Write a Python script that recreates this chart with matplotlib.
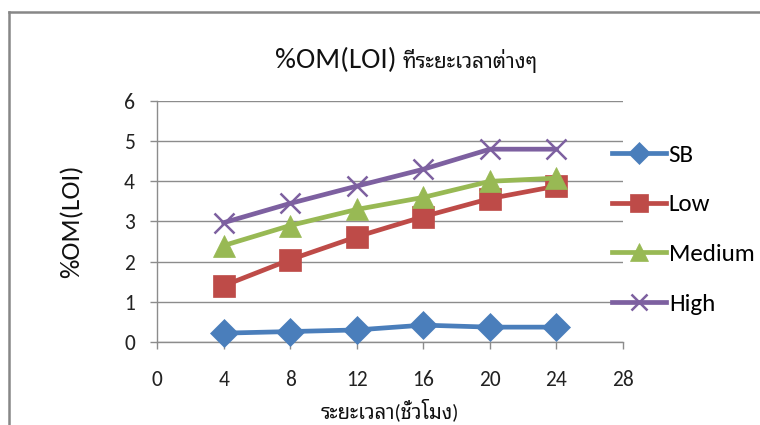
import matplotlib
matplotlib.use("Agg")
import matplotlib.pyplot as plt
from matplotlib.lines import Line2D

plt.rcParams["font.family"] = ["Carlito", "Noto Sans Thai Looped", "DejaVu Sans"]

hours = [4, 8, 12, 16, 20, 24]
sb = [0.22, 0.26, 0.30, 0.42, 0.37, 0.37]
low = [1.40, 2.05, 2.62, 3.12, 3.57, 3.88]
medium = [2.40, 2.90, 3.30, 3.60, 4.00, 4.08]
high = [2.97, 3.45, 3.88, 4.30, 4.80, 4.80]

x_ticks = [0, 4, 8, 12, 16, 20, 24, 28]
y_ticks = [0, 1, 2, 3, 4, 5, 6]

series = [
    ("SB", sb, "#4A7EBB", "D", 14),
    ("Low", low, "#BE4B48", "s", 16),
    ("Medium", medium, "#98B954", "^", 16),
    ("High", high, "#7D60A0", "x", 14.5),
]

fig = plt.figure(figsize=(7.6, 4.25), dpi=100)
ax = fig.add_axes([0.2066, 0.1953, 0.6131, 0.5671])

for name, vals, color, marker, ms in series:
    ax.plot(hours, vals, color=color, lw=3.4, marker=marker, ms=ms,
            mec=color, mew=1.8 if marker == "x" else 0.5, label=name,
            clip_on=False, zorder=3)

ax.set_xlim(0, 28)
ax.set_ylim(0, 6)
ax.set_xticks(x_ticks)
ax.set_yticks(y_ticks)
ax.grid(axis="y", color="#8C8C8C", lw=1.0)
ax.set_axisbelow(True)

for side in ["top", "right"]:
    ax.spines[side].set_visible(False)
for side in ["left", "bottom"]:
    ax.spines[side].set_color("#8C8C8C")
    ax.spines[side].set_linewidth(1.0)

ax.tick_params(axis="both", direction="out", length=5, width=1.0,
               color="#8C8C8C", labelsize=15.5, labelcolor="#222222")
ax.tick_params(axis="y", pad=11)
ax.tick_params(axis="x", pad=15)

ax.set_ylabel("%OM(LOI)", fontsize=19.5, color="#111111", labelpad=29)
ax.set_xlabel("ระยะเวลา(ชั่วโมง)", fontsize=14.5, color="#111111", labelpad=6)

# title: latin part larger, thai part smaller
fig.text(0.522, 1 - 68 / 425, "%OM(LOI)", fontsize=21, ha="right", va="baseline", color="#111111")
fig.text(0.530, 1 - 68 / 425, "ที่ระยะเวลาต่างๆ", fontsize=15, ha="left", va="baseline", color="#111111")

ax.legend(loc="upper left", bbox_to_anchor=(0.955, 0.862), frameon=False,
          fontsize=18, handlelength=2.15, handletextpad=0.12, markerscale=0.8,
          labelspacing=1.13, borderaxespad=0)

# chart frame
frame_kw = dict(color="#878787", lw=1.8, transform=fig.transFigure, clip_on=False)
fig.add_artist(Line2D([9 / 760, 1.0], [1 - 12 / 425, 1 - 12 / 425], **frame_kw))
fig.add_artist(Line2D([9 / 760, 9 / 760], [1 - 12 / 425, 0.0], **frame_kw))

fig.savefig("out.png", dpi=100)
